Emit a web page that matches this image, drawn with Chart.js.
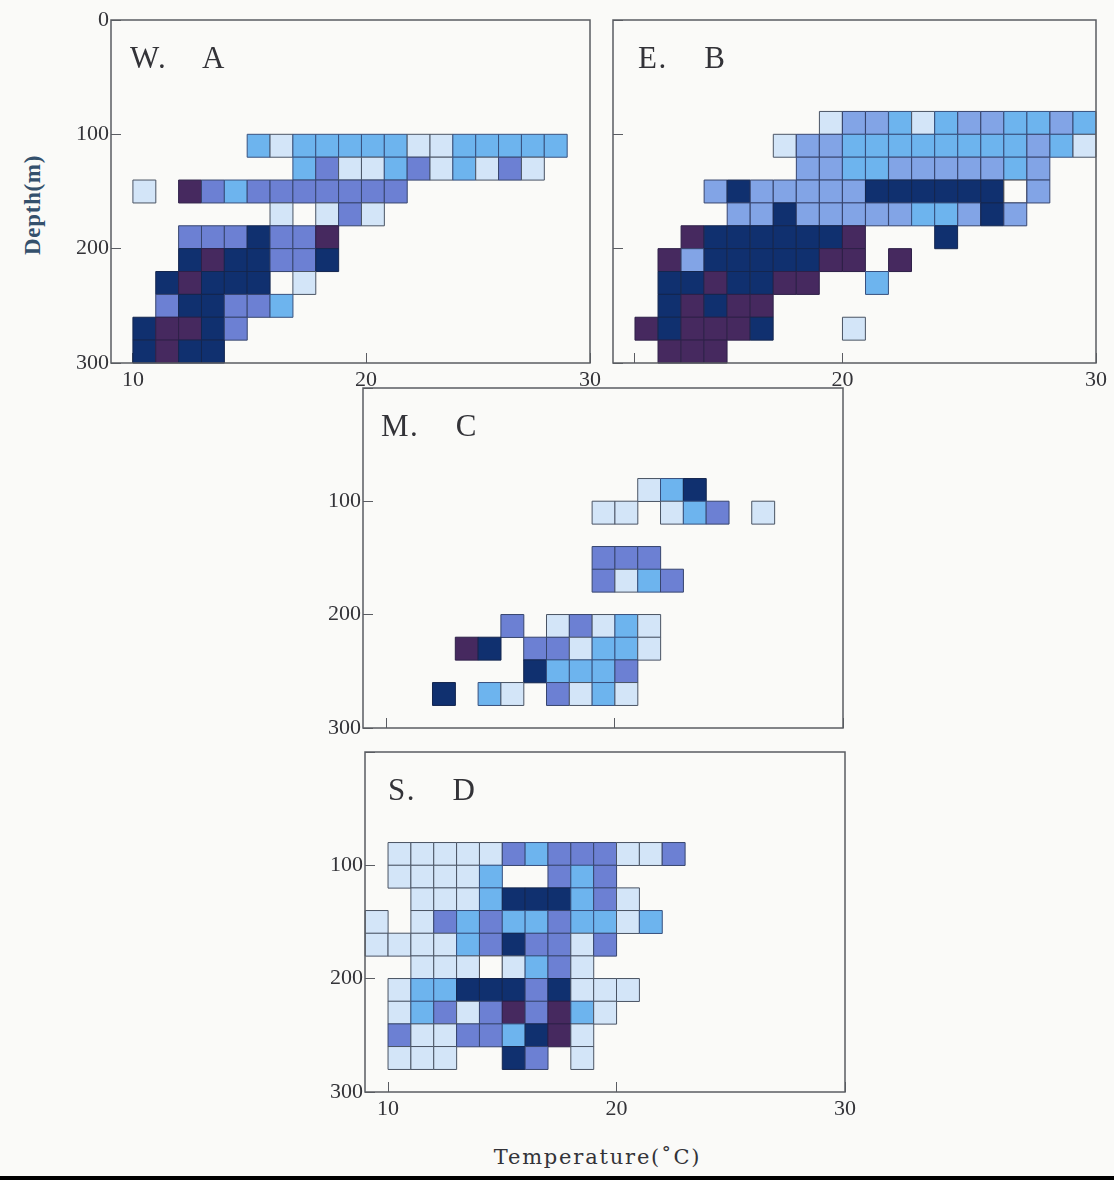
<!DOCTYPE html>
<html>
<head>
<meta charset="utf-8">
<script src="https://cdn.jsdelivr.net/npm/chart.js@4"></script>
<style>
    html, body { margin: 0; padding: 0; background: #fafaf8; }
    body { width: 1114px; height: 1180px; position: relative; overflow: hidden; font-family: "Liberation Serif", serif; color: #333338; }
    canvas { position: absolute; }
    .title { position: absolute; font-size: 31px; white-space: pre; line-height: 34px; letter-spacing: 1.5px; word-spacing: 9px; }
    .depth { position: absolute; left: -27px; top: 192px; width: 120px; text-align: center; font-size: 23px; font-weight: bold; letter-spacing: 0.7px; color: #34506c; transform: rotate(-90deg); }
    .temp { position: absolute; left: 470px; top: 1145px; width: 255px; text-align: center; letter-spacing: 1.8px; font-family: "DejaVu Serif", serif; font-size: 21px; }
    .strip { position: absolute; left: 0; right: 0; top: 1176px; height: 4px; background: #000; }
</style>
</head>
<body>
<div class="depth">Depth(m)</div>
<div class="temp">Temperature(&#730;C)</div>
<div class="strip"></div>
<script>
// cell levels: 0 gap, 1 pale, 2 sky, 3 periwinkle, 4 medium, 5 navy, 6 plum, 7 empty box
const level_colors = [null, '#d3e5f8', '#6db4ee', '#82a4e6', '#6c80d3', '#10306f', '#46295f', '#fafaf8'];
const level_borders = [null, '#4a5464', '#37507e', '#37456e', '#37456e', '#14264f', '#2e2048', '#4a4a50'];

const depth_ticks = [0, 100, 200, 300];

// each row: [depth at top of cell, first temperature, levels]
const rows_a = [
    [100, 15, [2, 1, 2, 2, 2, 2, 2, 1, 1, 2, 2, 2, 2, 2]],
    [120, 17, [2, 4, 1, 1, 2, 4, 1, 2, 1, 4, 1]],
    [140, 10, [1, 0, 6, 4, 2, 4, 4, 4, 4, 4, 4, 4]],
    [160, 16, [1, 0, 1, 4, 1]],
    [180, 12, [4, 4, 4, 5, 4, 4, 6]],
    [200, 12, [5, 6, 5, 5, 4, 4, 5]],
    [220, 11, [5, 6, 5, 5, 5, 0, 1]],
    [240, 11, [4, 5, 5, 4, 4, 2]],
    [260, 10, [5, 6, 6, 5, 4]],
    [280, 10, [5, 6, 5, 5]],
];
const rows_b = [
    [80, 18, [1, 3, 3, 2, 1, 2, 3, 3, 2, 2, 3, 2]],
    [100, 16, [1, 3, 3, 2, 2, 2, 2, 2, 2, 2, 2, 3, 2, 1]],
    [120, 17, [3, 3, 2, 2, 3, 3, 3, 3, 3, 2, 3]],
    [140, 13, [3, 5, 3, 3, 3, 3, 3, 5, 5, 5, 5, 5, 5, 7, 3]],
    [160, 14, [3, 3, 5, 3, 3, 3, 3, 3, 2, 2, 3, 5, 3]],
    [180, 12, [6, 5, 5, 5, 5, 5, 5, 6, 0, 0, 0, 5]],
    [200, 11, [6, 3, 5, 5, 5, 5, 5, 6, 6, 0, 6]],
    [220, 11, [5, 5, 6, 5, 5, 6, 6, 0, 0, 2]],
    [240, 11, [5, 6, 5, 6, 6]],
    [260, 10, [6, 5, 6, 6, 6, 5, 0, 0, 0, 1]],
    [280, 11, [6, 6, 6]],
];
const rows_c = [
    [80, 21, [1, 2, 5]],
    [100, 19, [1, 1, 0, 1, 2, 4, 0, 1]],
    [140, 19, [4, 4, 4]],
    [160, 19, [4, 1, 2, 4]],
    [200, 15, [4, 0, 1, 4, 1, 2, 1]],
    [220, 13, [6, 5, 0, 4, 4, 1, 2, 2, 1]],
    [240, 16, [5, 2, 2, 2, 4]],
    [260, 12, [5, 0, 2, 1, 0, 4, 1, 2, 1]],
];
const rows_d = [
    [80, 10, [1, 1, 1, 1, 1, 4, 2, 4, 4, 4, 1, 1, 4]],
    [100, 10, [1, 1, 1, 1, 2, 0, 0, 4, 2, 4]],
    [120, 11, [1, 1, 1, 2, 5, 5, 5, 2, 4, 1]],
    [140, 9, [1, 0, 1, 4, 2, 4, 2, 2, 4, 2, 2, 1, 2]],
    [160, 9, [1, 1, 1, 1, 2, 4, 5, 4, 4, 1, 4]],
    [180, 11, [1, 1, 1, 7, 1, 2, 4, 1]],
    [200, 10, [1, 2, 2, 5, 5, 5, 4, 5, 1, 1, 1]],
    [220, 10, [1, 2, 4, 1, 4, 6, 4, 6, 2, 1]],
    [240, 10, [4, 1, 1, 4, 4, 2, 5, 6, 1]],
    [260, 10, [1, 1, 1, 0, 0, 5, 4, 0, 1]],
];

const cell_radius = 16.2; // pointStyle rect: side = radius * sqrt(2)
const cell_depth = 20;

function build_points(rows) {
    let points = [];
    let colors = [];
    let borders = [];
    for (const row of rows) {
        row[2].forEach((level, i) => {
            if (level === 0) return;
            points.push({x: row[1] + i + 0.5, y: row[0] + cell_depth / 2});
            colors.push(level_colors[level]);
            borders.push(level_borders[level]);
        });
    }
    return {points, colors, borders};
}

const frame_plugin = {
    id: 'frame',
    afterDatasetsDraw(chart) {
        const area = chart.chartArea;
        const ctx = chart.ctx;
        ctx.save();
        ctx.strokeStyle = '#5a5c62';
        ctx.lineWidth = 1.5;
        ctx.strokeRect(area.left, area.top, area.right - area.left, area.bottom - area.top);
        ctx.restore();
    }
};

function make_panel(name, title_left, rows, box, x_min, x_ticks, x_labels, y_labels) {
    const margin_left = 60, margin_top = 12, margin_right = 16, margin_bottom = 34;
    const canvas = document.createElement('canvas');
    const w = box.right - box.left + margin_left + margin_right;
    const h = box.bottom - box.top + margin_top + margin_bottom;
    canvas.style.left = (box.left - margin_left) + 'px';
    canvas.style.top = (box.top - margin_top) + 'px';
    canvas.style.width = w + 'px';
    canvas.style.height = h + 'px';
    canvas.width = w;
    canvas.height = h;
    document.body.appendChild(canvas);

    const title = document.createElement('div');
    title.className = 'title';
    title.textContent = name;
    title.style.left = title_left + 'px';
    title.style.top = (box.top + 21) + 'px';
    document.body.appendChild(title);

    const cells = build_points(rows);
    const tick_font = {family: '"Liberation Serif", serif', size: 22};
    new Chart(canvas, {
        type: 'scatter',
        data: {
            datasets: [{
                data: cells.points,
                pointStyle: 'rect',
                pointRadius: cell_radius,
                pointHoverRadius: cell_radius,
                pointBackgroundColor: cells.colors,
                pointBorderColor: cells.borders,
                pointBorderWidth: 1,
                clip: false,
            }]
        },
        options: {
            responsive: false,
            animation: false,
            layout: {
                autoPadding: false,
                padding: {top: margin_top, right: margin_right, left: 0, bottom: 0}
            },
            scales: {
                x: {
                    type: 'linear',
                    min: x_min,
                    max: 30,
                    afterBuildTicks: (axis) => {
                        axis.ticks = x_ticks.map(v => ({value: v}));
                    },
                    afterFit: (axis) => {
                        axis.height = margin_bottom;
                        axis.paddingLeft = axis.paddingRight = 0;
                    },
                    grid: {drawOnChartArea: false, tickLength: -10, color: '#5a5c62'},
                    border: {display: false},
                    ticks: {
                        autoSkip: false,
                        maxRotation: 0,
                        padding: 14,
                        color: '#333338',
                        font: tick_font,
                        callback: (value, index) => x_labels[index],
                    },
                },
                y: {
                    type: 'linear',
                    reverse: true,
                    min: 0,
                    max: 300,
                    afterBuildTicks: (axis) => {
                        axis.ticks = depth_ticks.map(v => ({value: v}));
                    },
                    afterFit: (axis) => {
                        axis.width = margin_left;
                        axis.paddingTop = axis.paddingBottom = 0;
                    },
                    grid: {drawOnChartArea: false, tickLength: -10, color: '#5a5c62'},
                    border: {display: false},
                    ticks: {
                        autoSkip: false,
                        padding: 12,
                        color: '#333338',
                        font: tick_font,
                        callback: (value, index) => y_labels[index],
                    },
                }
            },
            plugins: {
                legend: {display: false},
                tooltip: {enabled: false},
            },
        },
        plugins: [frame_plugin],
    });
}

make_panel('W.  A', 130, rows_a, {left: 111, top: 20, right: 590, bottom: 363}, 9.04, [10, 20.2, 30], ['10', '20', '30'], ['0', '100', '200', '300']);
make_panel('E.  B', 638, rows_b, {left: 613, top: 20, right: 1096, bottom: 363}, 9.05, [10, 19, 30], ['', '20', '30'], ['', '', '', '']);
make_panel('M.  C', 381, rows_c, {left: 363, top: 388, right: 843, bottom: 728}, 8.95, [10, 20, 30], ['', '', ''], ['', '100', '200', '300']);
make_panel('S.  D', 388, rows_d, {left: 365, top: 752, right: 845, bottom: 1092}, 8.99, [10, 20, 30], ['10', '20', '30'], ['', '100', '200', '300']);
</script>
</body>
</html>
